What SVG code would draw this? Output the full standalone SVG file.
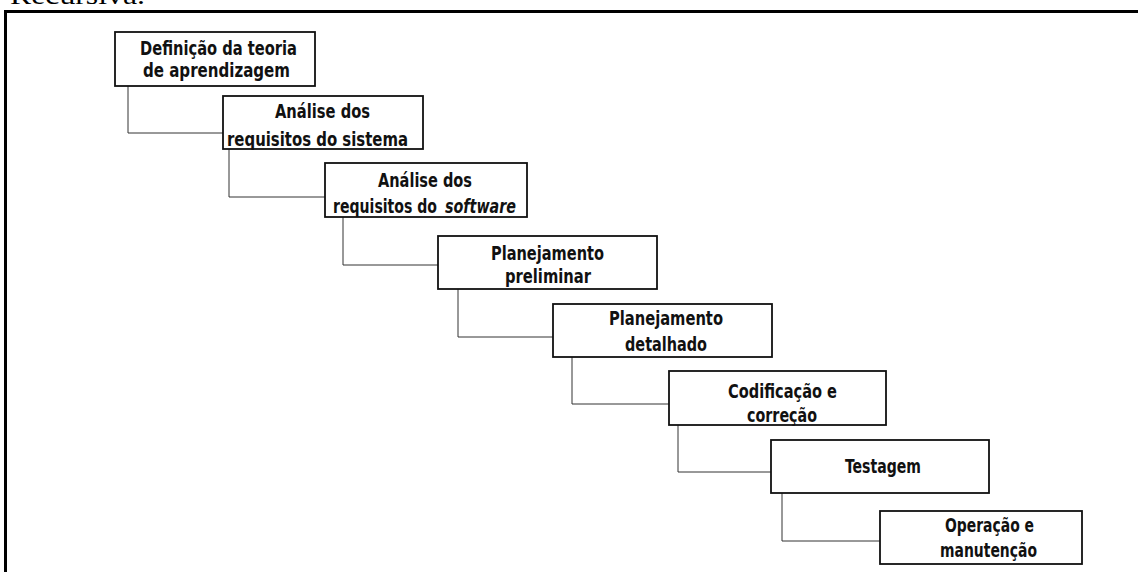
<svg xmlns="http://www.w3.org/2000/svg" width="1138" height="572" viewBox="0 0 1138 572">
  <style>
    .frame { fill: none; stroke: #000; stroke-width: 3; }
    .box { fill: #fff; stroke: #111; stroke-width: 1.8; }
    .link { fill: none; stroke: #333; stroke-width: 1; }
    .lbl { font-family: "DejaVu Sans Condensed", "DejaVu Sans", sans-serif; font-weight: bold; font-size: 19px; fill: #111; }
    .it { font-style: italic; }
    .cap { font-family: "Liberation Serif", serif; font-size: 26px; fill: #000; }
  </style>
  <rect width="1138" height="572" fill="#fff"/>

  <!-- caption line above the frame -->
  <text class="cap" x="10" y="4" textLength="135" lengthAdjust="spacingAndGlyphs">Recursiva.</text>

  <!-- outer frame (top and left edges) -->
  <path class="frame" d="M5.5,572 V11.5 H1138"/>

  <!-- connectors between consecutive stages -->
  <g id="connectors">
    <path class="link" d="M128,86 V133 H223"/>
    <path class="link" d="M229,149 V197 H325"/>
    <path class="link" d="M343,217 V265 H438"/>
    <path class="link" d="M458,289 V337 H553"/>
    <path class="link" d="M572,357 V404 H669"/>
    <path class="link" d="M678,425 V472 H771"/>
    <path class="link" d="M782,493 V541 H880"/>
  </g>

  <g id="n1">
    <rect class="box" x="115" y="32" width="200" height="54"/>
    <text class="lbl" x="140" y="55" textLength="157" lengthAdjust="spacingAndGlyphs">Definição da teoria</text>
    <text class="lbl" x="143" y="77" textLength="147" lengthAdjust="spacingAndGlyphs">de aprendizagem</text>
  </g>
  <g id="n2">
    <rect class="box" x="223" y="96" width="200" height="53"/>
    <text class="lbl" x="275" y="118" textLength="95" lengthAdjust="spacingAndGlyphs">Análise dos</text>
    <text class="lbl" x="227" y="146" textLength="181" lengthAdjust="spacingAndGlyphs">requisitos do sistema</text>
  </g>
  <g id="n3">
    <rect class="box" x="325" y="163" width="202" height="54"/>
    <text class="lbl" x="378" y="187" textLength="94" lengthAdjust="spacingAndGlyphs">Análise dos</text>
    <text class="lbl" x="333" y="213" textLength="104" lengthAdjust="spacingAndGlyphs">requisitos do</text>
    <text class="lbl it" x="445" y="213" textLength="71" lengthAdjust="spacingAndGlyphs">software</text>
  </g>
  <g id="n4">
    <rect class="box" x="438" y="236" width="219" height="53"/>
    <text class="lbl" x="491" y="260" textLength="113" lengthAdjust="spacingAndGlyphs">Planejamento</text>
    <text class="lbl" x="505" y="283" textLength="86" lengthAdjust="spacingAndGlyphs">preliminar</text>
  </g>
  <g id="n5">
    <rect class="box" x="553" y="304" width="219" height="53"/>
    <text class="lbl" x="609" y="325" textLength="114" lengthAdjust="spacingAndGlyphs">Planejamento</text>
    <text class="lbl" x="625" y="351" textLength="82" lengthAdjust="spacingAndGlyphs">detalhado</text>
  </g>
  <g id="n6">
    <rect class="box" x="669" y="371" width="217" height="54"/>
    <text class="lbl" x="728" y="398" textLength="109" lengthAdjust="spacingAndGlyphs">Codificação e</text>
    <text class="lbl" x="747" y="422" textLength="70" lengthAdjust="spacingAndGlyphs">correção</text>
  </g>
  <g id="n7">
    <rect class="box" x="771" y="440" width="218" height="53"/>
    <text class="lbl" x="845" y="473" textLength="76" lengthAdjust="spacingAndGlyphs">Testagem</text>
  </g>
  <g id="n8">
    <rect class="box" x="880" y="511" width="202" height="53"/>
    <text class="lbl" x="945" y="532" textLength="89" lengthAdjust="spacingAndGlyphs">Operação e</text>
    <text class="lbl" x="940" y="557" textLength="97" lengthAdjust="spacingAndGlyphs">manutenção</text>
  </g>
</svg>
